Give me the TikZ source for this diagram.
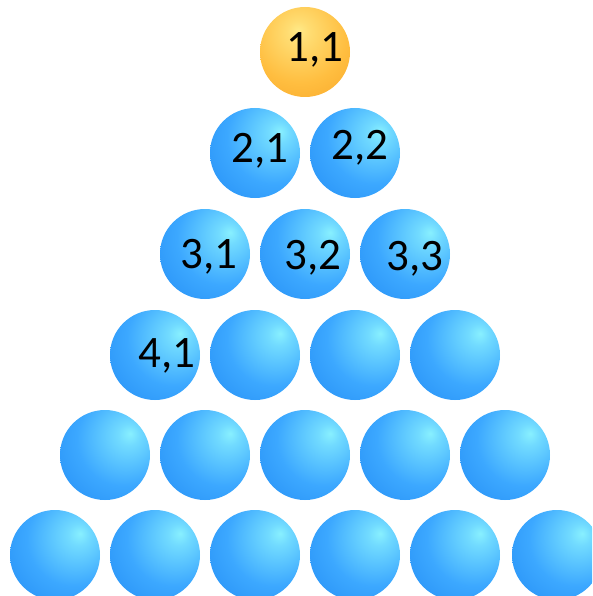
\documentclass[tikz,border=0pt]{standalone}
\usepackage{fontspec}
\setmainfont{Carlito}
\definecolor{bhl}{HTML}{88F0FF}
\definecolor{bmid}{HTML}{3CA8FF}
\definecolor{bedge}{HTML}{1A82F0}
\definecolor{ohl}{HTML}{FFEA88}
\definecolor{omid}{HTML}{FFBE40}
\definecolor{oedge}{HTML}{F4981A}
\pgfdeclareradialshading{blueball}{\pgfpoint{14bp}{12bp}}{%
  color(0bp)=(bhl); color(6bp)=(bhl!70!bmid); color(26bp)=(bmid); color(56bp)=(bedge); color(68bp)=(bedge!88!black); color(100bp)=(bedge!88!black)}
\pgfdeclareradialshading{orangeball}{\pgfpoint{-4bp}{12bp}}{%
  color(0bp)=(ohl); color(6bp)=(ohl!70!omid); color(26bp)=(omid); color(56bp)=(oedge); color(68bp)=(oedge!88!black); color(100bp)=(oedge!88!black)}
\tikzset{
  ball/.style={circle, minimum size=90pt, inner sep=0pt, shading=blueball},
  oball/.style={circle, minimum size=90pt, inner sep=0pt, shading=orangeball},
  lbl/.style={anchor=base, inner sep=0pt, font=\fontsize{45}{45}\selectfont, text=black}
}
\begin{document}
\begin{tikzpicture}[x=1pt,y=-1pt]
\useasboundingbox (0,0) rectangle (592,596);
\clip (0,0) rectangle (592,596);
\node[oball] (b11) at (305,52) {};
\node[ball] (b21) at (255,153) {};
\node[ball] (b22) at (355,153) {};
\node[ball] (b31) at (205,254) {};
\node[ball] (b32) at (305,254) {};
\node[ball] (b33) at (405,254) {};
\node[ball] (b41) at (155,355) {};
\node[ball] (b42) at (255,355) {};
\node[ball] (b43) at (355,355) {};
\node[ball] (b44) at (455,355) {};
\node[ball] (b51) at (105,455) {};
\node[ball] (b52) at (205,455) {};
\node[ball] (b53) at (305,455) {};
\node[ball] (b54) at (405,455) {};
\node[ball] (b55) at (505,455) {};
\node[ball] (b61) at (55,555) {};
\node[ball] (b62) at (155,555) {};
\node[ball] (b63) at (255,555) {};
\node[ball] (b64) at (355,555) {};
\node[ball] (b65) at (455,555) {};
\node[ball] (b66) at (557,555) {};
\node[lbl] (t11) at (315,62) {1,1};
\node[lbl] (t21) at (260,162) {2,1};
\node[lbl] (t22) at (360,160) {2,2};
\node[lbl] (t31) at (209,268) {3,1};
\node[lbl] (t32) at (313,269) {3,2};
\node[lbl] (t33) at (415,270) {3,3};
\node[lbl] (t41) at (167,367) {4,1};
\end{tikzpicture}
\end{document}
